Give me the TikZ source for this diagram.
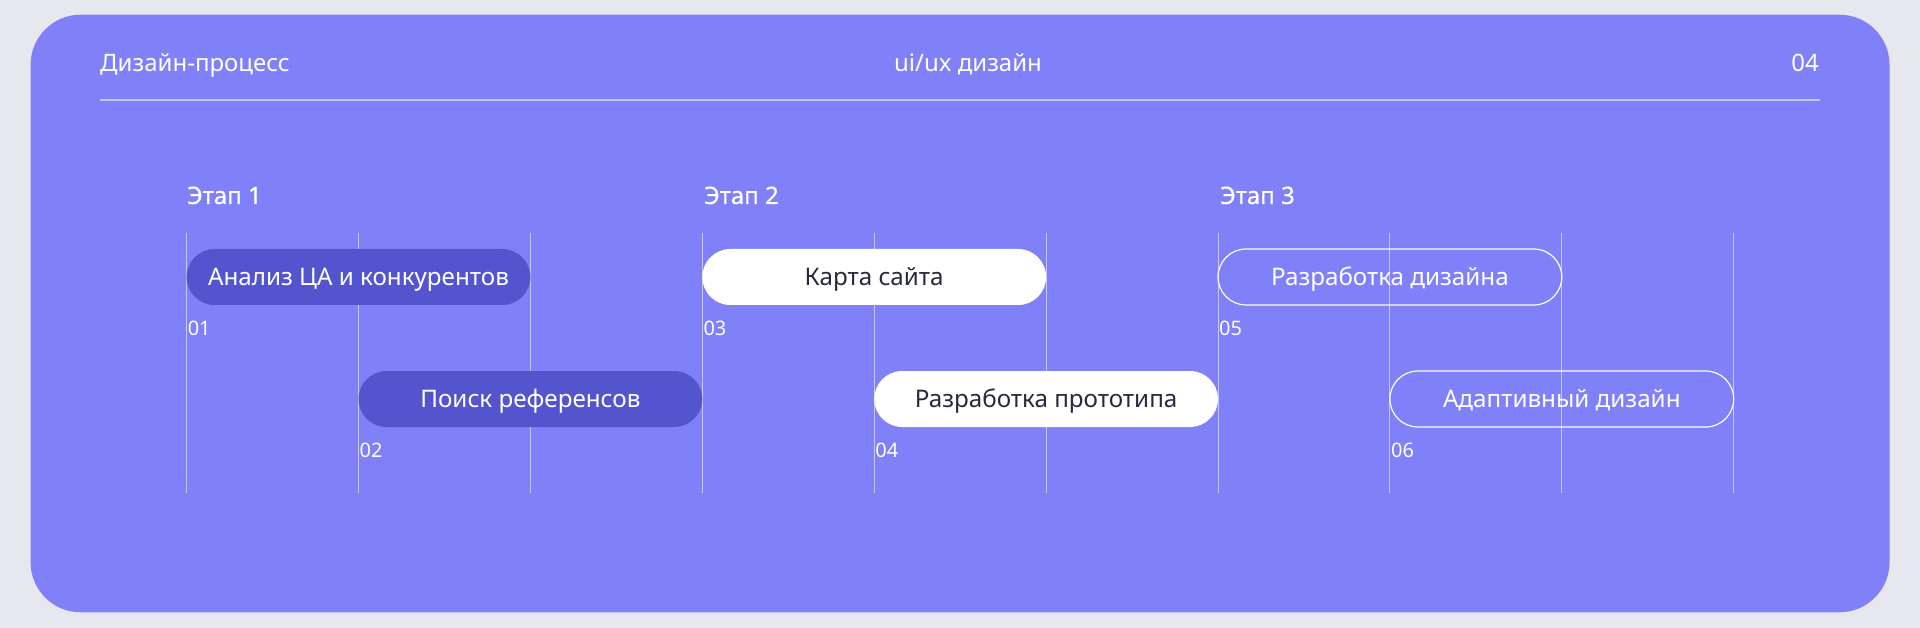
\documentclass[tikz,border=0pt]{standalone}
\usepackage{fontspec}
\setmainfont{Noto Sans}
\newfontfamily\stagefont[FakeBold=0.6]{Noto Sans}
\definecolor{bgc}{HTML}{E7E7F0}
\definecolor{cardc}{HTML}{8080F9}
\definecolor{darkc}{HTML}{5455CE}
\definecolor{inkc}{HTML}{272940}
\begin{document}
\begin{tikzpicture}[x=1pt,y=-1pt,
  hdr/.style={text=white, inner sep=0pt, font=\fontsize{24}{28}\selectfont},
  stage/.style={text=white, inner sep=0pt, anchor=base west, font=\stagefont\fontsize{24}{28}\selectfont},
  num/.style={text=white, inner sep=0pt, anchor=base west, font=\fontsize{20}{24}\selectfont},
  pill/.style={rectangle, rounded corners=28pt, minimum width=343.8pt, minimum height=56pt, inner sep=0pt,
    text height=17.3pt, text depth=0pt, font=\fontsize{24.2}{28}\selectfont},
  pilldark/.style={pill, fill=darkc, text=white},
  pillwhite/.style={pill, fill=white, text=inkc},
  pillline/.style={pill, draw=white, line width=1.2pt, text=white},
  rule/.style={draw=white!55!cardc, line width=1.2pt},
  gridl/.style={draw=white!55!cardc, line width=1pt}]
\useasboundingbox (0,0) rectangle (1920,628);
\fill[bgc] (0,0) rectangle (1920,628);
\fill[cardc, rounded corners=50pt] (30.6,14.7) rectangle (1889.5,612.3);
% header
\node[hdr, anchor=base west] (title) at (100,72) {Дизайн-процесс};
\node[hdr, anchor=base] (sub) at (968,72) {ui/ux дизайн};
\node[hdr, anchor=base east] (page) at (1819,72) {04};
\coordinate (rl) at (100,100);
\coordinate (rr) at (1820,100);
\draw[rule] (rl) -- (rr);
% grid
\foreach \i in {0,...,9}{
  \draw[gridl] ({186.6+171.9*\i},233) -- ({186.6+171.9*\i},493);
}
% stages
\node[stage] (s1) at (187,204) {Этап 1};
\node[stage] (s2) at (704,204) {Этап 2};
\node[stage] (s3) at (1220,204) {Этап 3};
% pills
\node[pilldark]  (p1) at ({186.6+171.9*1},277) {Анализ ЦА и конкурентов};
\node[pilldark]  (p2) at ({186.6+171.9*2},399) {Поиск референсов};
\node[pillwhite] (p3) at ({186.6+171.9*4},277) {Карта сайта};
\node[pillwhite] (p4) at ({186.6+171.9*5},399) {Разработка прототипа};
\node[pillline]  (p5) at ({186.6+171.9*7},277) {Разработка дизайна};
\node[pillline]  (p6) at ({186.6+171.9*8},399) {Адаптивный дизайн};
% numbers
\node[num] (n1) at ({187.6+171.9*0},335) {01};
\node[num] (n2) at ({187.6+171.9*1},457) {02};
\node[num] (n3) at ({187.6+171.9*3},335) {03};
\node[num] (n4) at ({187.6+171.9*4},457) {04};
\node[num] (n5) at ({187.6+171.9*6},335) {05};
\node[num] (n6) at ({187.6+171.9*7},457) {06};
\end{tikzpicture}
\end{document}
